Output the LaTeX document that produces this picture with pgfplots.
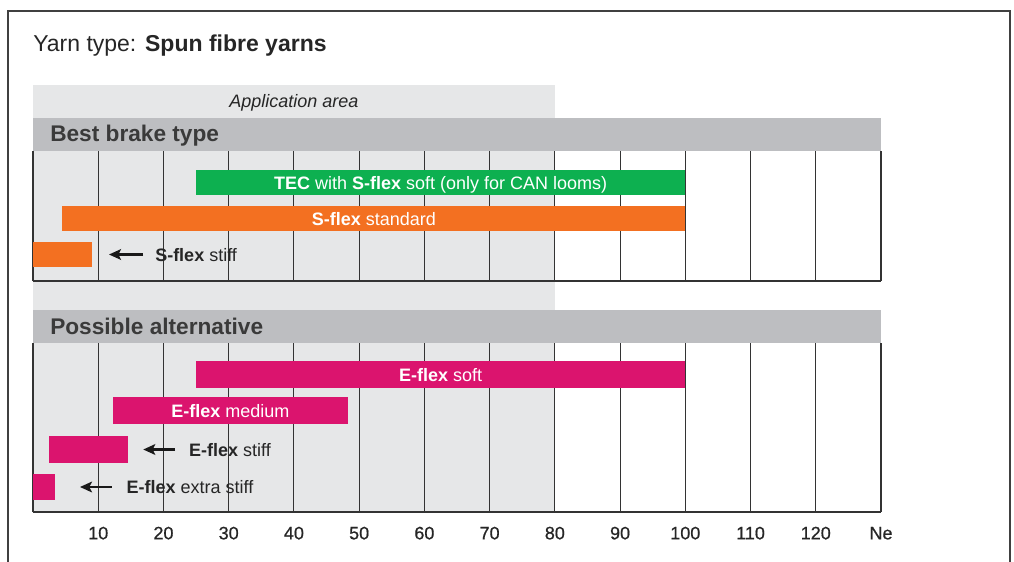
\documentclass[border=0pt]{standalone}
\usepackage{fontspec}
\setmainfont{Liberation Sans}
\newfontfamily\medfont{Liberation Sans}[FakeBold=0.7]
\usepackage{pgfplots}
\pgfplotsset{compat=1.18}
\usetikzlibrary{arrows.meta}
\definecolor{appgray}{HTML}{E6E7E8}
\definecolor{hdrgray}{HTML}{BDBEC1}
\definecolor{tecgreen}{HTML}{0DB050}
\definecolor{sorange}{HTML}{F37021}
\definecolor{emag}{HTML}{DB146E}
\definecolor{gridc}{HTML}{333333}
\definecolor{txt}{HTML}{262626}
\definecolor{hdrtxt}{HTML}{3A3A3A}
\newcommand{\lblfont}{\fontsize{13.5}{16}\selectfont}
\newcommand{\bigfont}{\fontsize{17}{20}\selectfont}
\tikzset{
  lbl/.style={inner sep=0pt, font=\lblfont, text height=0.716em, text depth=0pt, yshift=-1.5pt},
  wlbl/.style={lbl, text=white, anchor=center},
  arr/.style={-{Stealth[length=9pt,width=8pt,inset=2pt]}, line width=1.8pt, color=black!90},
}
\pgfplotsset{
  panel/.style={
    scale only axis, width=636pt,
    xmin=0, xmax=130, ymin=0,
    xtick={0,10,...,130}, ytick=\empty,
    xmajorgrids, major grid style={gridc, line width=0.85pt},
    axis lines*=left, axis line style={gridc, line width=1pt},
    major tick length=0pt,
    anchor=north west, clip=false,
    /pgf/number format/assume math mode=true,
  }
}
\begin{document}
\begin{tikzpicture}[x=0.75pt,y=-0.75pt]
\path[use as bounding box] (0,0) rectangle (1014,561);
% application area background
\fill[appgray] (33,85) rectangle (555,512);
% headers
\fill[hdrgray] (33,118) rectangle (881,151);
\fill[hdrgray] (33,310) rectangle (881,343);
% frame
\draw[line width=1.1pt, color=black!75] (8,575) -- (8,11) -- (1010,11) -- (1010,575);
% title and header texts
\node[inner sep=0pt, anchor=west, font=\fontsize{17.25}{20}\selectfont, text=txt, text height=0.716em, text depth=0pt] at (33,46.5) {Yarn type:\hspace{0.38em}\textbf{Spun fibre yarns}};
\node[lbl, anchor=center, text=txt] at (294,101) {\itshape Application area};
\node[inner sep=0pt, anchor=west, font=\bigfont\bfseries, text=hdrtxt, text height=0.716em, text depth=0pt] at (50,137) {Best brake type};
\node[inner sep=0pt, anchor=west, font=\bigfont\bfseries, text=hdrtxt, text height=0.716em, text depth=0pt] at (50,330) {Possible alternative};

% Panel 1: best brake type
\begin{axis}[panel, at={(24.75pt,-113.25pt)}, height=97.5pt, ymax=130, xticklabels={}]
  \addplot[fill=tecgreen, draw=none] coordinates {(25,86) (100,86) (100,111) (25,111)} -- cycle;
  \addplot[fill=sorange, draw=none] coordinates {(4.5,50) (100,50) (100,75) (4.5,75)} -- cycle;
  \addplot[fill=sorange, draw=none] coordinates {(0,14) (9,14) (9,39) (0,39)} -- cycle;
  \node[wlbl] at (axis cs:62.5,98.5) {\textbf{TEC} with \textbf{S-flex} soft (only for CAN looms)};
  \node[wlbl] at (axis cs:52.25,62.5) {\textbf{S-flex} standard};
  \draw[arr] (axis cs:16.9,26.5) -- (axis cs:11.65,26.5);
  \node[lbl, anchor=west, text=txt] at (axis cs:18.7,26.5) {\textbf{S-flex} stiff};
\end{axis}

% Panel 2: possible alternative
\begin{axis}[panel, at={(24.75pt,-257.25pt)}, height=126.75pt, ymax=169,
  xticklabels={,10,20,30,40,50,60,70,80,90,100,110,120,Ne},
  xticklabel style={font=\lblfont\medfont, text=txt, anchor=base, yshift=-20.5pt}]
  \addplot[fill=emag, draw=none] coordinates {(25,124) (100,124) (100,151) (25,151)} -- cycle;
  \addplot[fill=emag, draw=none] coordinates {(12.2,88) (48.3,88) (48.3,115) (12.2,115)} -- cycle;
  \addplot[fill=emag, draw=none] coordinates {(2.5,49) (14.6,49) (14.6,76) (2.5,76)} -- cycle;
  \addplot[fill=emag, draw=none] coordinates {(0,12) (3.3,12) (3.3,38) (0,38)} -- cycle;
  \node[wlbl] at (axis cs:62.5,137.5) {\textbf{E-flex} soft};
  \node[wlbl] at (axis cs:30.25,101.5) {\textbf{E-flex} medium};
  \draw[arr] (axis cs:21.8,62.5) -- (axis cs:16.9,62.5);
  \node[lbl, anchor=west, text=txt] at (axis cs:23.9,62.5) {\textbf{E-flex} stiff};
  \draw[arr] (axis cs:12.1,25) -- (axis cs:7.2,25);
  \node[lbl, anchor=west, text=txt] at (axis cs:14.3,25) {\textbf{E-flex} extra stiff};
\end{axis}
\end{tikzpicture}
\end{document}
